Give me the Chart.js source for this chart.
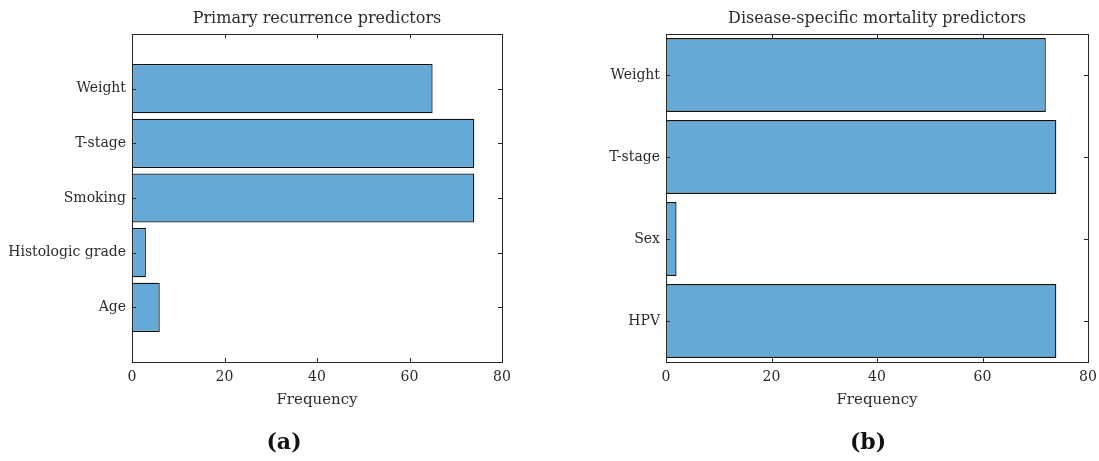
<!DOCTYPE html>
<html>
<head>
<meta charset="utf-8">
<script src="https://cdn.jsdelivr.net/npm/chart.js@4.4.1/dist/chart.umd.min.js"></script>
<style>
  html, body { margin: 0; padding: 0; background: #ffffff; }
  #page { position: relative; width: 1099px; height: 461px; overflow: hidden; }
  .panel { position: absolute; top: 0; }
  .caption {
    position: absolute; top: 428px; height: 30px; line-height: 30px;
    font: bold 22px 'DejaVu Serif', serif; color: #111111;
    transform: translateX(-50%); white-space: nowrap;
  }
</style>
</head>
<body>
<div id="page">
  <div class="panel" style="left:0;width:550px;height:461px;">
    <canvas id="recurrence" width="550" height="461"></canvas>
  </div>
  <div class="panel" style="left:550px;width:549px;height:461px;">
    <canvas id="mortality" width="549" height="461"></canvas>
  </div>
  <div class="caption" style="left:284px;">(a)</div>
  <div class="caption" style="left:868px;">(b)</div>
</div>
<script>
// Predictor selection frequencies
const recurrenceLabels = ['Weight', 'T-stage', 'Smoking', 'Histologic grade', 'Age'];
const recurrenceFreq = [65, 74, 74, 3, 6];

const mortalityLabels = ['Weight', 'T-stage', 'Sex', 'HPV'];
const mortalityFreq = [72, 74, 2, 74];

const freqTicks = [0, 20, 40, 60, 80];

const FONT = "'DejaVu Serif', serif";
const TEXT = '#2b2b2b';
const FRAME = '#262626';
const BAR_FILL = '#65a9d6';
const BAR_EDGE = '#111111';

// Box frame plus inward tick marks on all four sides
const boxTicks = {
  id: 'boxTicks',
  afterDatasetsDraw(chart) {
    const { ctx, chartArea: a, scales: { x, y } } = chart;
    const len = 4;
    ctx.save();
    ctx.strokeStyle = FRAME;
    ctx.lineWidth = 1;
    ctx.beginPath();
    x.ticks.forEach(t => {
      const px = Math.round(x.getPixelForValue(t.value)) + 0.5;
      ctx.moveTo(px, a.bottom); ctx.lineTo(px, a.bottom - len);
      ctx.moveTo(px, a.top); ctx.lineTo(px, a.top + len);
    });
    y.ticks.forEach(t => {
      const py = Math.round(y.getPixelForValue(t.value)) + 0.5;
      ctx.moveTo(a.left, py); ctx.lineTo(a.left + len, py);
      ctx.moveTo(a.right, py); ctx.lineTo(a.right - len, py);
    });
    ctx.stroke();
    ctx.strokeRect(Math.round(a.left) + 0.5, Math.round(a.top) + 0.5,
                   Math.round(a.right - a.left), Math.round(a.bottom - a.top));
    ctx.restore();
  }
};

function makeChart(id, title, labels, values, yMin, yMax, box) {
  const positions = labels.map((_, i) => i + 1);
  const canvas = document.getElementById(id);
  const W = canvas.width;
  return new Chart(canvas, {
    type: 'bar',
    data: {
      datasets: [{
        data: labels.map((_, i) => ({ x: values[i], y: positions[i] })),
        backgroundColor: BAR_FILL,
        borderColor: BAR_EDGE,
        borderWidth: 1.3,
        borderSkipped: false,
        categoryPercentage: 1.0,
        barPercentage: 0.9
      }]
    },
    options: {
      indexAxis: 'y',
      responsive: false,
      animation: false,
      events: [],
      layout: { padding: { left: 0, right: W - box.right, top: 0, bottom: 40 } },
      plugins: {
        legend: { display: false },
        tooltip: { enabled: false },
        title: {
          display: true,
          text: title,
          fullSize: false,
          color: TEXT,
          font: { family: FONT, size: 16, weight: 'normal', lineHeight: 1 },
          padding: { top: 11, bottom: 7 }
        }
      },
      scales: {
        x: {
          type: 'linear',
          offset: false,
          min: 0, max: 80,
          afterBuildTicks: s => { s.ticks = freqTicks.map(v => ({ value: v })); },
          grid: { display: false, drawTicks: false, offset: false },
          border: { display: false },
          ticks: { color: TEXT, font: { family: FONT, size: 14 }, padding: 7 },
          title: {
            display: true, text: 'Frequency', color: TEXT,
            font: { family: FONT, size: 15, lineHeight: 1.2 },
            padding: { top: 0, bottom: 12 }
          },
          afterFit: s => {
            s.height = 461 - 40 - 362;
            s.paddingLeft = 0;
            s.paddingRight = 0;
          }
        },
        y: {
          type: 'linear',
          offset: false,
          reverse: true,
          min: yMin, max: yMax,
          afterBuildTicks: s => { s.ticks = positions.map(v => ({ value: v })); },
          grid: { display: false, drawTicks: false, offset: false },
          border: { display: false },
          ticks: {
            color: TEXT, font: { family: FONT, size: 14 }, padding: 6,
            callback: v => labels[v - 1]
          },
          afterFit: s => {
            s.width = box.left;
            s.paddingTop = 0;
            s.paddingBottom = 0;
          }
        }
      }
    },
    plugins: [boxTicks]
  });
}

makeChart('recurrence', 'Primary recurrence predictors', recurrenceLabels, recurrenceFreq, 0, 6,
          { left: 132, right: 502 });
makeChart('mortality', 'Disease-specific mortality predictors', mortalityLabels, mortalityFreq, 0.5, 4.5,
          { left: 116, right: 538 });
</script>
</body>
</html>
